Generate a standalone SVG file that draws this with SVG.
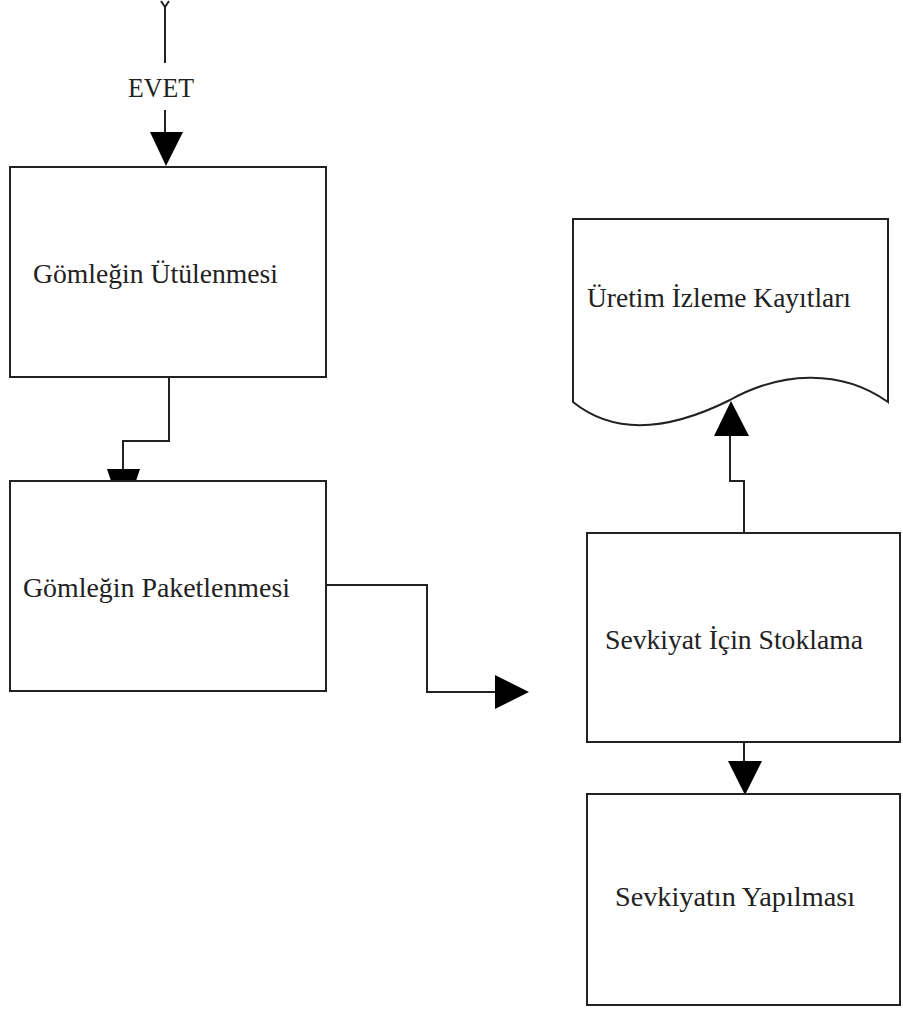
<svg xmlns="http://www.w3.org/2000/svg" width="903" height="1015" viewBox="0 0 903 1015">
<style>
.box{fill:#fff;stroke:#222;stroke-width:2}
.ln{fill:none;stroke:#222;stroke-width:2}
.ah{fill:#000;stroke:none}
.t{font-family:"Liberation Serif","Times New Roman",serif;font-size:27px;fill:#222}
</style>
<rect width="903" height="1015" fill="#fff"/>
<g id="connectors">
<path class="ln" d="M161,1 L165,7 L169,1 M165,7 V63"/>
<text class="t" x="128" y="97" textLength="66" lengthAdjust="spacingAndGlyphs">EVET</text>
<path class="ln" d="M165,110 V136"/>
<polygon class="ah" points="150,132 183,132 166,166"/>
<path class="ln" d="M169,377 V441 H123 V470"/>
<polygon class="ah" points="107,469 140,469 136,481 111,481"/>
<path class="ln" d="M326,585 H427 V692 H497"/>
<polygon class="ah" points="495,675 529,692 495,709"/>
<path class="ln" d="M744,533 V481 H730 V434"/>
<polygon class="ah" points="714,436 749,436 731,401"/>
<path class="ln" d="M744,742 V762"/>
<polygon class="ah" points="728,761 762,761 745,795"/>
</g>
<g id="n1">
<rect class="box" x="10" y="167" width="316" height="210"/>
<text class="t" x="33" y="283" textLength="245" lengthAdjust="spacingAndGlyphs">Gömleğin Ütülenmesi</text>
</g>
<g id="n2">
<rect class="box" x="10" y="481" width="316" height="210"/>
<text class="t" x="23" y="597" textLength="267" lengthAdjust="spacingAndGlyphs">Gömleğin Paketlenmesi</text>
</g>
<g id="n_doc">
<path class="box" d="M573,219 H888 V402 C840,368 780,372 730,400 C680,425 620,440 573,402 Z"/>
<text class="t" x="587" y="307" textLength="264" lengthAdjust="spacingAndGlyphs">Üretim İzleme Kayıtları</text>
</g>
<g id="n3">
<rect class="box" x="587" y="533" width="313" height="209"/>
<text class="t" x="605" y="649" textLength="258" lengthAdjust="spacingAndGlyphs">Sevkiyat İçin Stoklama</text>
</g>
<g id="n4">
<rect class="box" x="587" y="794" width="313" height="211"/>
<text class="t" x="615" y="906" textLength="240" lengthAdjust="spacingAndGlyphs">Sevkiyatın Yapılması</text>
</g>
</svg>
